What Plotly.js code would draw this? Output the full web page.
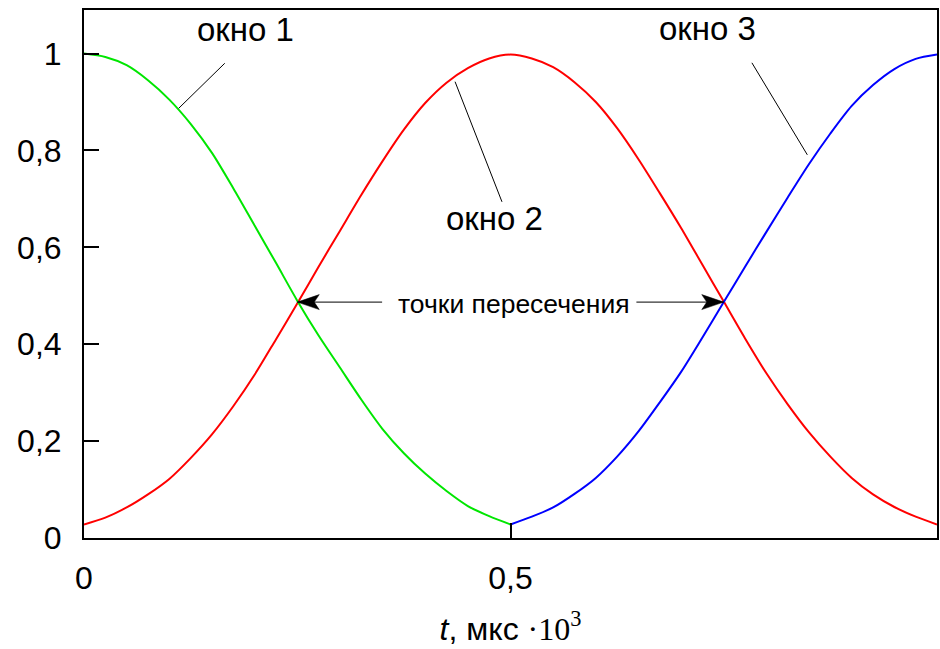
<!DOCTYPE html>
<html>
<head>
<meta charset="utf-8">
<script src="https://cdn.plot.ly/plotly-3.0.1.min.js"></script>
<style>
  html, body { margin: 0; padding: 0; background: #fff; }
  #chart { width: 940px; height: 649px; }
</style>
</head>
<body>
<div id="chart"></div>
<script>
// Time, мкс·10³
const tFirstHalf = [0, 0.025, 0.05, 0.075, 0.1, 0.125, 0.15, 0.175, 0.2, 0.225, 0.25,
                    0.275, 0.3, 0.325, 0.35, 0.375, 0.4, 0.425, 0.45, 0.475, 0.5];
const tSecondHalf = [0.5, 0.525, 0.55, 0.575, 0.6, 0.625, 0.65, 0.675, 0.7, 0.725, 0.75,
                     0.775, 0.8, 0.825, 0.85, 0.875, 0.9, 0.925, 0.95, 0.975, 1];
const tFull = [0, 0.025, 0.05, 0.075, 0.1, 0.125, 0.15, 0.175, 0.2, 0.225, 0.25,
               0.275, 0.3, 0.325, 0.35, 0.375, 0.4, 0.425, 0.45, 0.475, 0.5,
               0.525, 0.55, 0.575, 0.6, 0.625, 0.65, 0.675, 0.7, 0.725, 0.75,
               0.775, 0.8, 0.825, 0.85, 0.875, 0.9, 0.925, 0.95, 0.975, 1];

// Window 1 (green), 0 … 0,5
const win1 = [1.000, 0.993, 0.976, 0.945, 0.905, 0.855, 0.795, 0.722, 0.645, 0.568, 0.490,
              0.418, 0.352, 0.286, 0.225, 0.175, 0.133, 0.097, 0.066, 0.045, 0.028];
// Window 2 (red), 0 … 1
const win2 = [0.028, 0.042, 0.063, 0.090, 0.122, 0.165, 0.214, 0.272, 0.337, 0.410, 0.484,
              0.560, 0.634, 0.708, 0.778, 0.843, 0.898, 0.940, 0.970, 0.990, 0.998,
              0.990, 0.972, 0.941, 0.900, 0.846, 0.782, 0.712, 0.640, 0.564, 0.488,
              0.412, 0.340, 0.276, 0.218, 0.168, 0.124, 0.090, 0.064, 0.044, 0.028];
// Window 3 (blue), 0,5 … 1
const win3 = [0.028, 0.044, 0.063, 0.091, 0.124, 0.168, 0.220, 0.280, 0.343, 0.414, 0.487,
              0.560, 0.632, 0.703, 0.772, 0.835, 0.892, 0.935, 0.968, 0.989, 0.998];

// Axis ticks
const xTickVals = [0, 0.5, 1];
const xTickText = ['0', '0,5', '1'];
const yTickVals = [0, 0.2, 0.4, 0.6, 0.8, 1];
const yTickText = ['0', '0,2', '0,4', '0,6', '0,8', '1'];

// Labels
const windowNames = ['окно 1', 'окно 2', 'окно 3'];
const crossLabel = 'точки пересечения';

const FONT = 'Liberation Sans, Arial, sans-serif';

function curve(t, y, color) {
  return {
    x: t, y: y, type: 'scatter', mode: 'lines',
    line: { color: color, width: 2, shape: 'spline', smoothing: 0.8 },
    hoverinfo: 'skip', showlegend: false
  };
}

const traces = [
  curve(tFull, win2, '#ff0000'),
  curve(tFirstHalf, win1, '#00e600'),
  curve(tSecondHalf, win3, '#0000ff')
];

// label positions and leader lines (data units)
const labelPos = [[0.189, 1.049], [0.481, 0.659], [0.731, 1.051]];
const leaders = [
  [0.165, 0.980, 0.111, 0.887],
  [0.490, 0.694, 0.435, 0.942],
  [0.783, 0.981, 0.848, 0.791]
];
const crossPts = [[0.25, 0.487], [0.75, 0.487]];
const arrowTails = [0.3495, 0.6476];

const annotations = windowNames.map((txt, i) => ({
  x: labelPos[i][0], y: labelPos[i][1], xref: 'x', yref: 'y',
  text: txt, showarrow: false, xanchor: 'center', yanchor: 'middle',
  font: { family: FONT, size: 33, color: '#000' }
}));
annotations.push({
  x: 0.504, y: 0.484, xref: 'x', yref: 'y', text: crossLabel, showarrow: false,
  xanchor: 'center', yanchor: 'middle',
  font: { family: FONT, size: 26.5, color: '#000' }
});

const shapes = [];
leaders.forEach(l => shapes.push({
  type: 'line', xref: 'x', yref: 'y', x0: l[0], y0: l[1], x1: l[2], y1: l[3],
  line: { color: '#000', width: 1 }
}));
// arrow shafts
crossPts.forEach((p, i) => shapes.push({
  type: 'line', xref: 'x', yref: 'y', x0: arrowTails[i], y0: p[1], x1: p[0], y1: p[1],
  line: { color: '#000', width: 1 }
}));
// arrow heads (pixel-sized, anchored at the crossing points)
shapes.push({
  type: 'path', xref: 'x', yref: 'y', xsizemode: 'pixel', ysizemode: 'pixel',
  xanchor: crossPts[0][0], yanchor: crossPts[0][1],
  path: 'M0,0 L22,7.5 L17,0 L22,-7.5 Z',
  fillcolor: '#000', line: { color: '#000', width: 0.5 }
});
shapes.push({
  type: 'path', xref: 'x', yref: 'y', xsizemode: 'pixel', ysizemode: 'pixel',
  xanchor: crossPts[1][0], yanchor: crossPts[1][1],
  path: 'M0,0 L-22,7.5 L-17,0 L-22,-7.5 Z',
  fillcolor: '#000', line: { color: '#000', width: 0.5 }
});

const axisCommon = {
  showline: true, mirror: true, linewidth: 2, linecolor: '#000',
  showgrid: false, zeroline: false,
  ticks: 'inside', ticklen: 15, tickwidth: 2, tickcolor: '#000',
  tickmode: 'array',
  tickfont: { family: FONT, size: 32, color: '#000' }
};

const layout = {
  width: 940, height: 649,
  margin: { l: 84, r: 3, t: 10, b: 111 },
  paper_bgcolor: '#fff', plot_bgcolor: '#fff',
  showlegend: false,
  xaxis: Object.assign({}, axisCommon, {
    range: [0, 1], tickvals: xTickVals, ticktext: xTickText,
    ticklabelstandoff: 11,
    title: {
      text: '<i>t</i>, мкс <span style="font-family:Liberation Serif, Times New Roman, serif">·10<sup>3</sup></span>',
      font: { family: FONT, size: 32, color: '#000' },
      standoff: 22
    }
  }),
  yaxis: Object.assign({}, axisCommon, {
    range: [0, 1.09], tickvals: yTickVals, ticktext: yTickText,
    ticklabelstandoff: 14
  }),
  annotations: annotations,
  shapes: shapes
};

Plotly.newPlot('chart', traces, layout, { displayModeBar: false, staticPlot: true });
</script>
</body>
</html>
